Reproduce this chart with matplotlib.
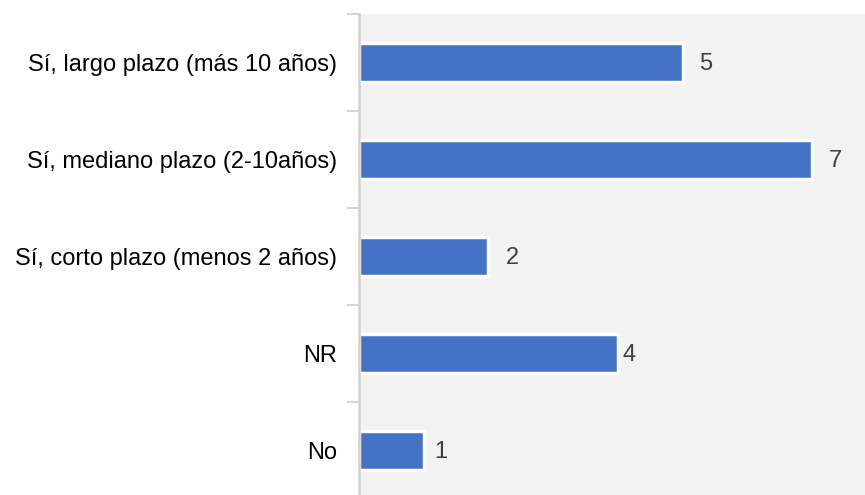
import matplotlib.pyplot as plt
from matplotlib.ticker import FixedLocator

plt.rcParams['font.family'] = ['Liberation Sans', 'DejaVu Sans']

# respuestas y número de menciones
categories = ["Sí, largo plazo (más 10 años)", "Sí, mediano plazo (2-10años)",
              "Sí, corto plazo (menos 2 años)", "NR", "No"]
counts = [5, 7, 2, 4, 1]
label_pad_px = [17, 17, 17, 5, 11]  # separación de cada etiqueta respecto a su barra

fig = plt.figure(figsize=(8.65, 4.95), dpi=100)
ax = fig.add_axes([359 / 865, 0, 1 - 359 / 865, 1 - 14 / 495])
ax.set_facecolor("#f2f2f2")

ypos = list(range(len(categories)))
ax.barh(ypos, counts, height=0.4, color="#4472c4", edgecolor="white", linewidth=2.5)

ax.set_xlim(0, 7.82)
ax.set_ylim(4.46, -0.5)

# etiquetas de valor
for y, v, pad in zip(ypos, counts, label_pad_px):
    ax.annotate(str(v), (v, y), xytext=(pad * 0.72, -1), textcoords="offset points",
                ha="left", va="center", fontsize=17, color="#404040")

ax.set_yticks(ypos)
ax.set_yticklabels(categories, fontsize=17, color="#000000")
ax.tick_params(axis="y", which="major", length=0, pad=15.5)
ax.yaxis.set_minor_locator(FixedLocator([i - 0.5 for i in range(len(categories) + 1)]))
ax.tick_params(axis="y", which="minor", length=8.6, width=1.3, color="#d0d0d0")
ax.set_xticks([])

for side in ["top", "right", "bottom"]:
    ax.spines[side].set_visible(False)
ax.spines["left"].set_color("#d0d0d0")
ax.spines["left"].set_linewidth(1.8)

plt.savefig("out.png", dpi=100)
